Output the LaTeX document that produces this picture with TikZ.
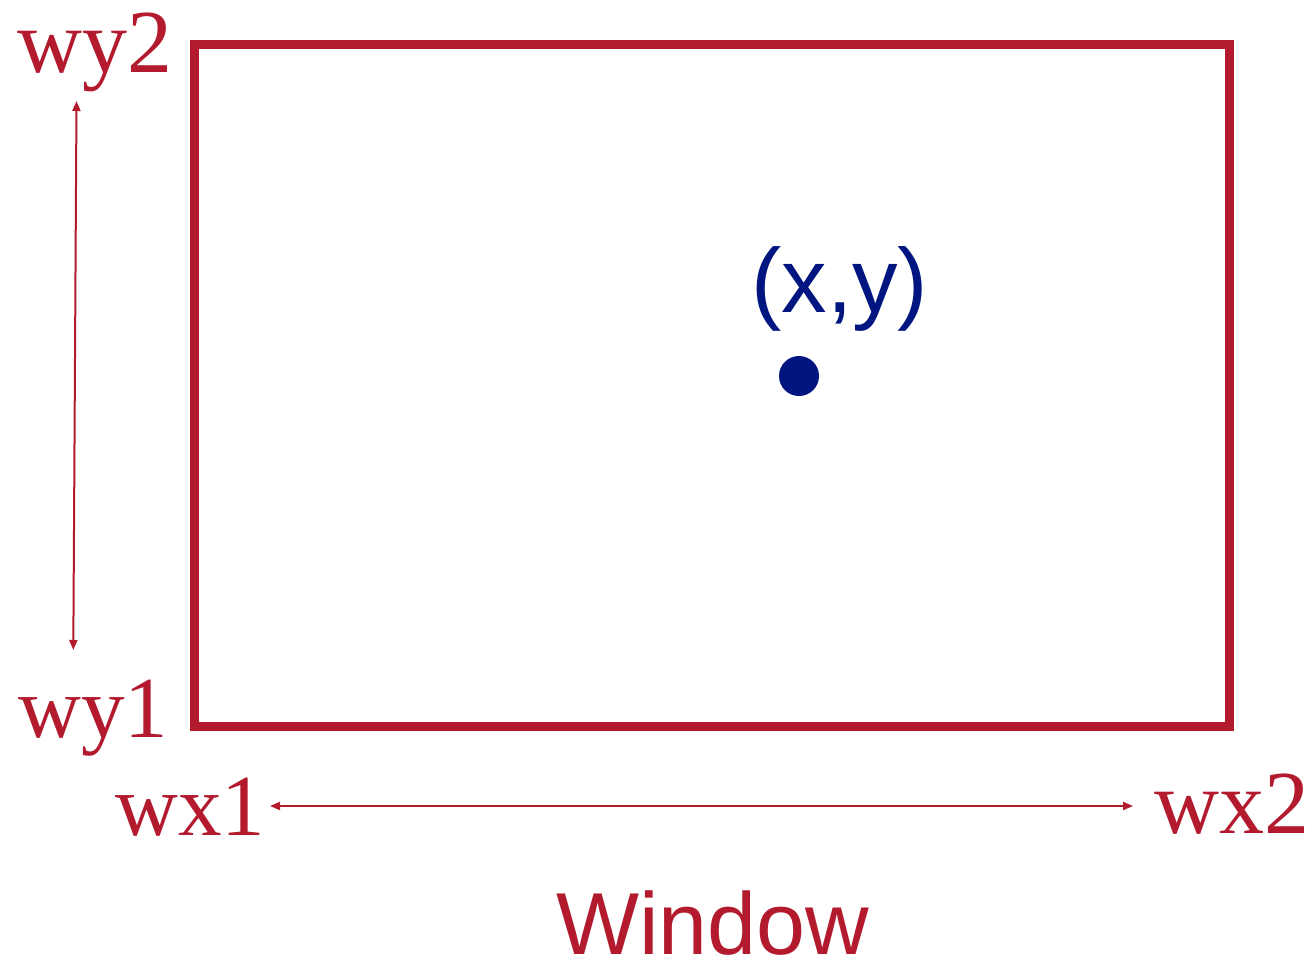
\documentclass[tikz,border=0pt]{standalone}
\usepackage{fontspec}
\setmainfont{Liberation Serif}
\setsansfont{Liberation Sans}
\usetikzlibrary{arrows.meta}
\definecolor{wred}{HTML}{B31A2E}
\definecolor{wblue}{HTML}{001580}
\tikzset{
  lbl/.style={anchor=base west, inner sep=0pt, text=wred, font=\fontsize{90}{90}\selectfont},
  sanslbl/.style={anchor=base west, inner sep=0pt, font=\sffamily\fontsize{88}{88}\selectfont},
  dim/.style={draw=wred, line width=2pt, {Triangle[length=10pt,width=8pt]}-{Triangle[length=10pt,width=8pt]}},
  frame/.style={draw=wred, line width=9pt},
}
\begin{document}
\begin{tikzpicture}[x=1pt,y=-1pt]
\useasboundingbox (0,0) rectangle (1307,961);
% window frame
\draw[frame] (194.5,44) rectangle (1229,726);
% labels
\node[lbl] (wy2) at (17,72) {wy2};
\node[lbl, font=\fontsize{87}{87}\selectfont] (wy1) at (18,737) {wy1};
\node[lbl, font=\fontsize{87}{87}\selectfont] (wx1) at (115,835) {wx1};
\node[lbl] (wx2) at (1154,833) {wx2};
\node[sanslbl, text=wred] (win) at (556,954) {Window};
\node[sanslbl, text=wblue, font=\sffamily\fontsize{91}{91}\selectfont] (xy) at (751,312) {(x,y)};
% point
\node[circle, fill=wblue, inner sep=0pt, minimum size=40pt] (pt) at (799,376) {};
% dimension arrows
\coordinate (vt) at (76.5,101);
\coordinate (vb) at (73.3,650);
\coordinate (hl) at (270,806);
\coordinate (hr) at (1133,806);
\draw[dim] (vt) -- (vb);
\draw[dim] (hl) -- (hr);
\end{tikzpicture}
\end{document}
